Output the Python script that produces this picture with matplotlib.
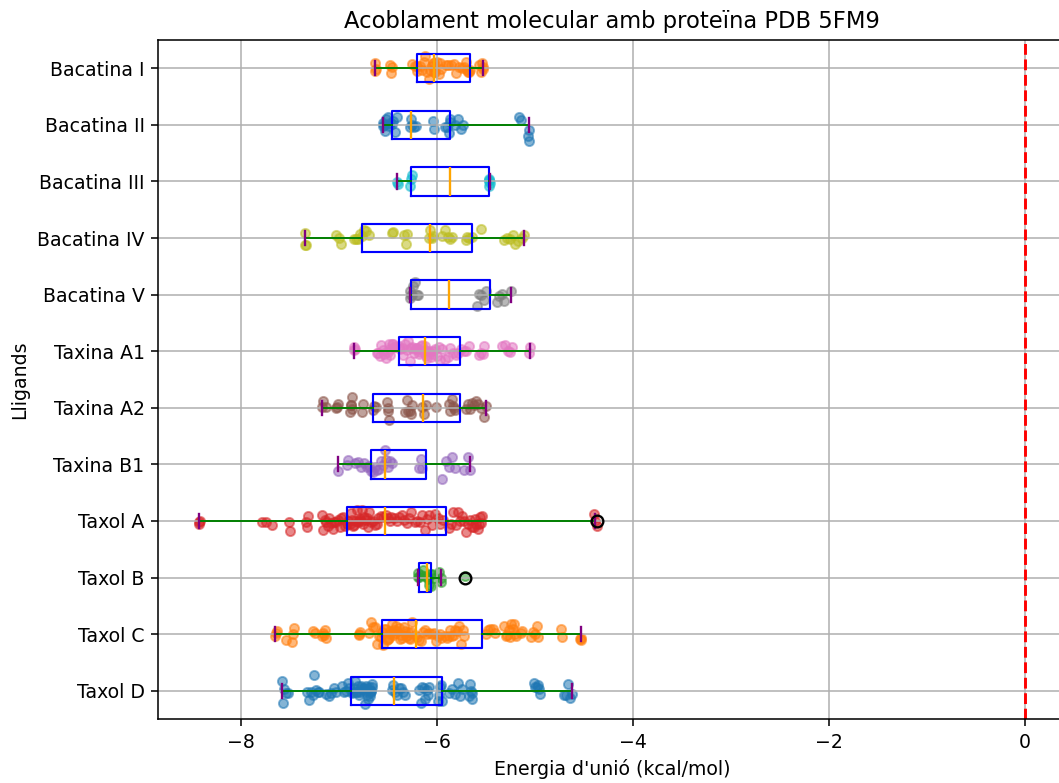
"""Acoblament molecular: energies d'unió per lligand (boxplot + punts)"""
import matplotlib
matplotlib.use('Agg')
import matplotlib.pyplot as plt
import numpy as np

DPI = 140
OUT = 'out.png'
plt.rcParams['font.size'] = 9.7

# ── dades (de baix a dalt) ────────────────────────────────────────────
labels = ['Taxol D', 'Taxol C', 'Taxol B', 'Taxol A', 'Taxina B1', 'Taxina A2',
          'Taxina A1', 'Bacatina V', 'Bacatina IV', 'Bacatina III', 'Bacatina II',
          'Bacatina I']

# estadístiques de caixa llegides de la figura
whislo = [-7.58, -7.65, -6.19, -8.42, -7.01, -7.17, -6.84, -6.27, -7.34, -6.40, -6.55, -6.63]
q1     = [-6.87, -6.56, -6.18, -6.91, -6.67, -6.65, -6.38, -6.265, -6.76, -6.265, -6.45, -6.20]
med    = [-6.435, -6.21, -6.095, -6.53, -6.53, -6.135, -6.12, -5.87, -6.07, -5.865, -6.26, -6.03]
q3     = [-5.94, -5.54, -6.055, -5.90, -6.11, -5.76, -5.76, -5.455, -5.635, -5.465, -5.865, -5.66]
whishi = [-4.62, -4.53, -5.95, -4.38, -5.66, -5.50, -5.05, -5.24, -5.11, -5.45, -5.06, -5.53]
fliers = [[], [], [-5.71], [-4.36], [], [], [], [], [], [], [], []]

taxol_d = [-7.58, -7.57, -7.56, -7.54, -7.52,
           -7.32, -7.30, -7.28, -7.26, -7.25, -7.23, -7.21, -7.20,
           -7.13, -7.10, -7.08, -7.05, -7.03,
           -6.96, -6.94, -6.92, -6.90, -6.89,
           -6.86, -6.85, -6.84, -6.83, -6.82, -6.81, -6.80, -6.79, -6.78, -6.77,
           -6.76, -6.75, -6.74, -6.73, -6.72, -6.71, -6.70, -6.70, -6.69, -6.68,
           -6.68, -6.67, -6.67, -6.66, -6.66,
           -6.45, -6.44, -6.42, -6.40, -6.38, -6.36, -6.34, -6.32,
           -6.18, -6.16, -6.15, -6.13, -6.12, -6.10, -6.09, -6.08,
           -5.99, -5.98, -5.96, -5.95, -5.94,
           -5.87, -5.84, -5.81, -5.78, -5.76, -5.74,
           -5.67, -5.66, -5.65, -5.64, -5.64,
           -5.01, -5.00, -4.98, -4.97, -4.95, -4.94,
           -4.70, -4.68, -4.66, -4.64, -4.62]
taxol_c = [-7.65, -7.64, -7.63, -7.54, -7.47, -7.46, -7.45, -7.26, -7.24,
           -7.17, -7.16, -7.15, -7.14, -7.13,
           -6.79, -6.79, -6.78, -6.69, -6.67, -6.65, -6.63, -6.61, -6.59,
           -6.57, -6.56, -6.55, -6.54, -6.52, -6.51, -6.50, -6.49, -6.48, -6.47,
           -6.45, -6.44, -6.43, -6.42, -6.41, -6.40, -6.38, -6.37, -6.36, -6.35,
           -6.33, -6.32, -6.31, -6.30, -6.29, -6.28, -6.27, -6.26, -6.25,
           -6.22, -6.20, -6.18, -6.16, -6.14, -6.12, -6.10, -6.08, -6.05, -6.03,
           -6.01, -5.99, -5.97, -5.95,
           -5.91, -5.89, -5.87, -5.86, -5.84, -5.82, -5.81, -5.79, -5.77, -5.75,
           -5.73, -5.72,
           -5.50, -5.48, -5.45, -5.42, -5.40,
           -5.31, -5.29, -5.28, -5.26, -5.25, -5.24, -5.22, -5.21, -5.20, -5.19,
           -5.14, -5.13,
           -5.04, -5.02, -5.00, -4.98, -4.97,
           -4.73, -4.72,
           -4.54, -4.53, -4.53]
taxol_b = [-6.19, -6.19, -6.18, -6.16, -6.14, -6.12, -6.10, -6.09, -6.08, -6.07,
           -6.06, -6.05, -6.03, -5.98, -5.95, -5.95, -5.71]
taxol_a = [-8.42, -8.42, -8.41,
           -7.78, -7.74, -7.68, -7.51, -7.50, -7.33, -7.32, -7.31,
           -7.17, -7.16, -7.14, -7.13, -7.11, -7.10, -7.08, -7.06, -7.05, -7.03,
           -7.01, -6.99, -6.97, -6.95, -6.93,
           -6.91, -6.90, -6.88, -6.87, -6.86, -6.85, -6.84, -6.82, -6.81, -6.80,
           -6.79, -6.78, -6.77, -6.76, -6.75, -6.74, -6.72, -6.71, -6.70, -6.69,
           -6.67, -6.65, -6.63, -6.61, -6.60,
           -6.57, -6.55, -6.52, -6.50, -6.48, -6.46, -6.43, -6.40, -6.38, -6.35,
           -6.33, -6.30, -6.28, -6.26,
           -6.22, -6.20, -6.17, -6.15, -6.12, -6.10, -6.08, -6.05, -6.02, -5.99,
           -5.96, -5.93,
           -5.87, -5.85, -5.83, -5.80, -5.78, -5.76, -5.74, -5.72, -5.70, -5.68,
           -5.66, -5.64, -5.62, -5.61, -5.60, -5.58, -5.57, -5.56, -5.55, -5.54,
           -4.39, -4.38, -4.36]
taxina_b1 = [-7.01, -6.91, -6.90, -6.83, -6.80, -6.77, -6.74, -6.71, -6.69,
             -6.67, -6.65, -6.63, -6.61, -6.59, -6.57, -6.55, -6.53, -6.52, -6.50,
             -6.48, -6.45, -6.18, -6.16, -6.15,
             -5.94, -5.90, -5.87, -5.84, -5.81, -5.72, -5.68, -5.66]
taxina_a2 = [-7.17, -7.16, -7.13, -7.03, -7.02, -7.01,
             -6.88, -6.87, -6.87, -6.86, -6.86, -6.76, -6.75, -6.65, -6.64, -6.62,
             -6.51, -6.50, -6.50, -6.49,
             -6.32, -6.30, -6.29, -6.27, -6.26, -6.25, -6.15, -6.13, -6.11, -6.01,
             -5.87, -5.86, -5.84, -5.83, -5.82, -5.81,
             -5.70, -5.68, -5.66, -5.64, -5.62, -5.60, -5.58, -5.55, -5.52, -5.50]
taxina_a1 = [-6.84, -6.84, -6.83,
             -6.61, -6.60, -6.58, -6.57, -6.55, -6.54, -6.52, -6.50, -6.49, -6.48,
             -6.47, -6.45, -6.44, -6.43, -6.42,
             -6.38, -6.37, -6.35, -6.34, -6.32, -6.30, -6.29, -6.27, -6.26, -6.25,
             -6.23, -6.22, -6.21, -6.20, -6.18, -6.17, -6.16, -6.15, -6.14, -6.13,
             -6.12, -6.12, -6.11,
             -6.10, -6.08, -6.06, -6.05, -6.04, -6.02, -6.00, -5.98, -5.96, -5.94,
             -5.91, -5.88, -5.86, -5.83, -5.80, -5.78, -5.75, -5.72, -5.70, -5.67,
             -5.57, -5.55, -5.53, -5.52,
             -5.33, -5.30, -5.27, -5.25, -5.23, -5.06, -5.05]
bacatina_v = [-6.27, -6.27, -6.26, -6.25, -6.24, -6.22, -6.20, -6.19,
              -5.59, -5.57, -5.55, -5.52, -5.50, -5.38, -5.36, -5.33, -5.31, -5.24]
bacatina_iv = [-7.34, -7.34, -7.33, -7.03, -7.00, -6.98,
               -6.84, -6.82, -6.80, -6.78, -6.76, -6.74, -6.72, -6.69,
               -6.45, -6.44, -6.33, -6.31, -6.30, -6.08, -6.07, -6.05, -6.04,
               -5.94, -5.91, -5.88, -5.86, -5.84, -5.70, -5.69, -5.67, -5.64, -5.55,
               -5.31, -5.28, -5.25, -5.22, -5.20, -5.17, -5.13, -5.11]
bacatina_iii = [-6.40, -6.39, -6.27, -6.26, -6.25, -5.47, -5.47, -5.46, -5.46, -5.45]
bacatina_ii = [-6.55, -6.55, -6.54, -6.53, -6.52, -6.50, -6.49, -6.47, -6.45, -6.44,
               -6.42, -6.40, -6.27, -6.26, -6.25, -6.23, -6.21, -6.04, -6.03,
               -5.91, -5.89, -5.87, -5.86, -5.86, -5.81, -5.78, -5.75, -5.73,
               -5.16, -5.14, -5.07, -5.06, -5.06]
bacatina_i = [-6.63, -6.63, -6.62, -6.48, -6.46, -6.45, -6.25, -6.22, -6.20, -6.20,
              -6.17, -6.15, -6.13, -6.12, -6.10, -6.08, -6.07, -6.05, -6.04, -6.03,
              -6.03, -6.02, -6.00, -5.98, -5.96, -5.95, -5.90, -5.88, -5.85, -5.82,
              -5.80, -5.77, -5.74, -5.72, -5.70, -5.69, -5.68, -5.67, -5.66,
              -5.57, -5.55, -5.54, -5.53, -5.53]

punts = [taxol_d, taxol_c, taxol_b, taxol_a, taxina_b1, taxina_a2, taxina_a1,
         bacatina_v, bacatina_iv, bacatina_iii, bacatina_ii, bacatina_i]

# ── figura ────────────────────────────────────────────────────────────
fig = plt.figure(figsize=(1059 / DPI, 783 / DPI), dpi=DPI)
ax = fig.add_axes([0.1494, 0.0817, 0.857, 0.8672])

rng = np.random.default_rng(3)
for i, vals in enumerate(punts):
    y = (i + 1) + rng.normal(0, 0.085, len(vals))
    ax.scatter(vals, y, s=22, alpha=0.55, color=f'C{i % 10}')

stats = [dict(label=labels[i], whislo=whislo[i], q1=q1[i], med=med[i],
              q3=q3[i], whishi=whishi[i], fliers=fliers[i])
         for i in range(len(labels))]
ax.bxp(stats, orientation='horizontal', widths=0.5,
       boxprops=dict(color='blue', linewidth=1.1),
       medianprops=dict(color='orange', linewidth=1.2),
       whiskerprops=dict(color='green'),
       capprops=dict(color='purple', linewidth=1.2),
       flierprops=dict(marker='o', markerfacecolor='none', markeredgecolor='black',
                       markeredgewidth=1.2))

ax.axvline(0, color='red', linestyle='--', linewidth=1.5)
ax.set_xlim(-8.84, 0.42)
ax.set_ylim(0.5, 12.5)
ax.grid(True)
ax.set_title('Acoblament molecular amb proteïna PDB 5FM9')
ax.set_xlabel("Energia d'unió (kcal/mol)")
ax.set_ylabel('Lligands')

fig.savefig(OUT, dpi=DPI)
plt.close(fig)
